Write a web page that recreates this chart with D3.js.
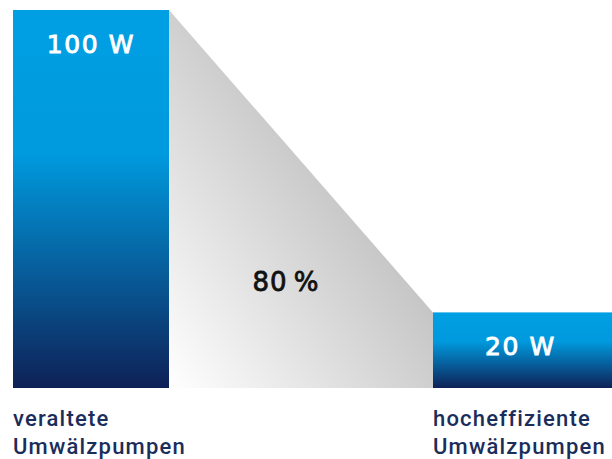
<!DOCTYPE html>
<html>
  <head>
    <meta charset="utf-8">
    <title>Umwälzpumpen</title>
    <script src="https://cdnjs.cloudflare.com/ajax/libs/d3/7.8.5/d3.min.js"></script>
    <style>
      body { margin: 0; background: #fff; }
    </style>
  </head>
  <body>
    <script>

      var width = 612;
      var height = 459;
      var margin = { left: 13, top: 10, right: 0, bottom: 71 };

      // data
      var categories = ["veraltete Umwälzpumpen", "hocheffiziente Umwälzpumpen"];
      var watts = [100, 20];
      var valueLabels = ["100 W", "20 W"];
      var savingLabel = "80\u2009%";

      var innerHeight = height - margin.top - margin.bottom;

      var svg = d3.select("body").append("svg")
        .attr("width", width)
        .attr("height", height);

      var defs = svg.append("defs");

      // blue bar gradient: cyan on top, navy at bottom
      var barGrad = defs.append("linearGradient")
        .attr("id", "barGrad")
        .attr("x1", 0).attr("y1", 0).attr("x2", 0).attr("y2", 1);
      barGrad.append("stop").attr("offset", "0%").attr("stop-color", "#009fe3");
      barGrad.append("stop").attr("offset", "38%").attr("stop-color", "#009ade");
      barGrad.append("stop").attr("offset", "100%").attr("stop-color", "#0e2157");

      // grey saving area: white bottom-left to grey top-right
      var greyGrad = defs.append("linearGradient")
        .attr("id", "greyGrad")
        .attr("x1", 0).attr("y1", 1).attr("x2", 0.7).attr("y2", 0.3);
      greyGrad.append("stop").attr("offset", "0%").attr("stop-color", "#ffffff");
      greyGrad.append("stop").attr("offset", "100%").attr("stop-color", "#bcbcbc");

      var x = d3.scaleBand()
        .domain(categories)
        .range([margin.left, 589])
        .paddingInner(1 - 156 / 420)
        .paddingOuter(0);

      var y = d3.scaleLinear()
        .domain([0, 100])
        .range([margin.top + innerHeight, margin.top]);

      function barWidth(d, i) {
        // last bar runs out to the edge of the picture
        return i === categories.length - 1 ? width - x(d) : x.bandwidth();
      }

      // saving area between the bars
      var xa = x(categories[0]) + x.bandwidth();
      var xb = x(categories[1]);
      svg.append("path")
        .attr("d", d3.line()([
          [xa, y(watts[0])],
          [xb, y(watts[1])],
          [xb, y(0)],
          [xa, y(0)]
        ]) + "Z")
        .attr("fill", "url(#greyGrad)");

      svg.selectAll("rect.bar")
        .data(categories)
        .enter().append("rect")
        .attr("class", "bar")
        .attr("x", function (d) { return x(d); })
        .attr("y", function (d, i) { return y(watts[i]); })
        .attr("width", barWidth)
        .attr("height", function (d, i) { return y(0) - y(watts[i]); })
        .attr("fill", "url(#barGrad)");

      // value labels inside bars
      svg.selectAll("text.value")
        .data(categories)
        .enter().append("text")
        .attr("class", "value")
        .attr("x", function (d, i) { return x(d) + barWidth(d, i) / 2 + (i === 1 ? -2 : 0); })
        .attr("y", function (d, i) { return y(watts[i]) + 43; })
        .attr("text-anchor", "middle")
        .attr("fill", "#fff")
        .attr("stroke", "#fff")
        .attr("stroke-width", 0.9)
        .style("font-family", "'DejaVu Sans', sans-serif")
        .style("font-size", "25px")
        .style("letter-spacing", "1.6px")
        .text(function (d, i) { return valueLabels[i]; });

      svg.append("text")
        .attr("x", (xa + xb) / 2 - 15)
        .attr("y", y(watts[1]) - 21)
        .attr("text-anchor", "middle")
        .attr("fill", "#111")
        .attr("stroke", "#111")
        .attr("stroke-width", 0.8)
        .style("font-family", "'DejaVu Sans', sans-serif")
        .style("font-size", "26px")
        .style("letter-spacing", "1px")
        .text(savingLabel);

      // category labels, two lines
      var cat = svg.selectAll("text.cat")
        .data(categories)
        .enter().append("text")
        .attr("class", "cat")
        .attr("x", function (d) { return x(d); })
        .attr("y", y(0) + 38)
        .attr("fill", "#1b2d5b")
        .style("font-family", "Roboto, sans-serif")
        .style("font-size", "22px")
        .style("font-weight", "500")
        .style("letter-spacing", "1.2px");

      cat.selectAll("tspan")
        .data(function (d) { return d.split(" "); })
        .enter().append("tspan")
        .attr("x", function () { return x(d3.select(this.parentNode).datum()); })
        .attr("dy", function (d, i) { return i === 0 ? 0 : 28; })
        .text(function (d) { return d; });

    </script>
  </body>
</html>
